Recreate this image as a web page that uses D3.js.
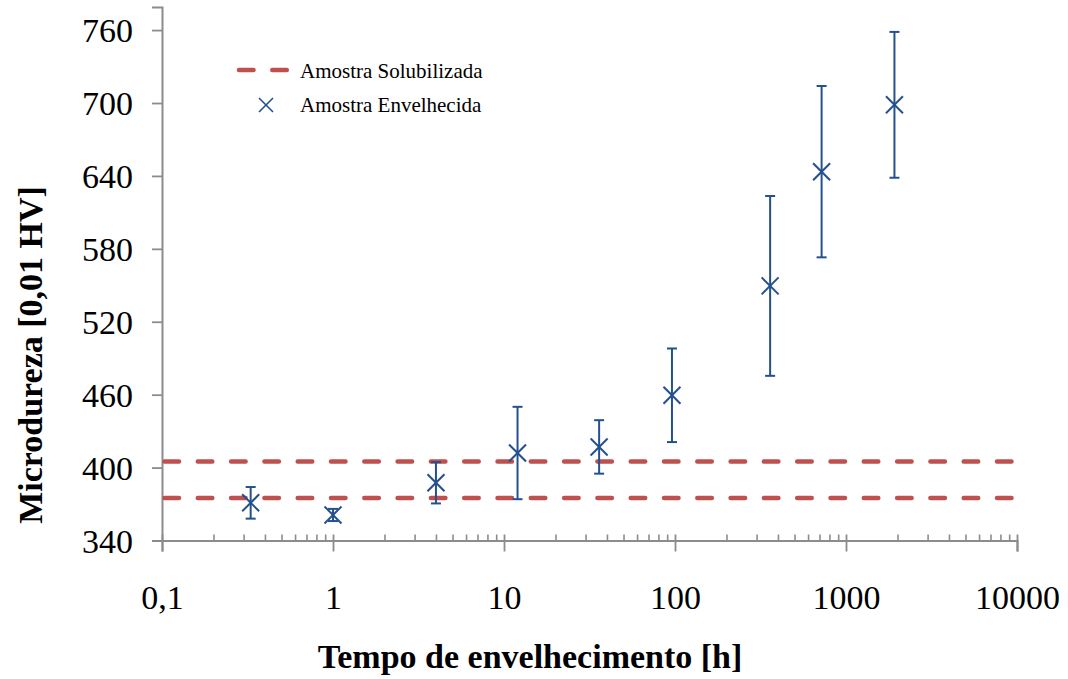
<!DOCTYPE html>
<html>
<head>
<meta charset="utf-8">
<script src="https://cdn.jsdelivr.net/npm/d3@7"></script>
<style>
  html, body { margin: 0; padding: 0; background: #ffffff; }
  svg { display: block; }
  text { font-family: "Liberation Serif", "Times New Roman", serif; fill: #000; }
</style>
</head>
<body>
<svg id="chart" width="1068" height="679"></svg>
<script>
// Tempo de envelhecimento (h) e microdureza medida (média e desvio)
const tempo = [0.33, 1, 4, 12, 36, 96, 360, 720, 1920];
const dureza = [371, 361, 387.5, 412, 417, 459.5, 549.5, 643.5, 698.5];
const desvio = [13, 5, 17, 38, 22, 38.5, 74, 70.5, 60];

// Faixa de dureza da amostra solubilizada
const solubilizada = [375, 405];

// Eixos
const yTicks = [340, 400, 460, 520, 580, 640, 700, 760];
const xTicks = [0.1, 1, 10, 100, 1000, 10000];
const xTickLabels = ["0,1", "1", "10", "100", "1000", "10000"];

const legendLabels = ["Amostra Solubilizada", "Amostra Envelhecida"];
const xTitle = "Tempo de envelhecimento [h]";
const yTitle = "Microdureza [0,01 HV]";

const serif = '"Liberation Serif", "Times New Roman", serif';
const svg = d3.select("#chart");
const axisColor = "#8c8c8c";
const blue = "#24508f";
const red = "#c0504d";

const x = d3.scaleLog().domain([0.1, 10000]).range([162, 1017]);
const y = d3.scaleLinear().domain([340, 779]).range([540.5, 7]);

// Minor ticks of the log axis (2..9 within each decade)
const minorTicks = [];
for (let e = -1; e < 4; e++) {
  for (let m = 2; m <= 9; m++) minorTicks.push(m * Math.pow(10, e));
}

// X axis: minor ticks pointing into the plot
const gMinor = svg.append("g").attr("transform", `translate(0,${y(340)})`)
  .call(d3.axisBottom(x).tickValues(minorTicks).tickSize(-6).tickFormat(""));
gMinor.select(".domain").remove();
gMinor.selectAll("line").attr("stroke", axisColor).attr("stroke-width", 1.6);

// X axis: major ticks crossing the axis line
const gx = svg.append("g").attr("transform", `translate(0,${y(340)})`)
  .call(d3.axisBottom(x).tickValues(xTicks).tickSizeOuter(0).tickSize(11).tickPadding(33)
    .tickFormat((d, i) => xTickLabels[i]));
gx.select(".domain").attr("stroke", axisColor).attr("stroke-width", 2);
gx.selectAll(".tick line").attr("y1", -6).attr("stroke", axisColor).attr("stroke-width", 1.8);
gx.selectAll(".tick text")
  .style("font-family", serif)
  .style("font-size", "34px").attr("fill", "#000");

// Y axis
const gy = svg.append("g").attr("transform", `translate(${x(0.1)},0)`)
  .call(d3.axisLeft(y).tickValues(yTicks).tickSizeOuter(0).tickSize(10).tickPadding(19)
    .tickFormat(d3.format("d")));
gy.select(".domain").attr("stroke", axisColor).attr("stroke-width", 2);
gy.selectAll(".tick line").attr("stroke", axisColor).attr("stroke-width", 1.8);
gy.selectAll(".tick text")
  .style("font-family", serif)
  .style("font-size", "34px").attr("fill", "#000").attr("dy", "0.35em");

// Solubilised-sample limits (dashed)
svg.append("g").selectAll("line").data(solubilizada).join("line")
  .attr("x1", x(0.1)).attr("x2", x(10000))
  .attr("y1", d => y(d)).attr("y2", d => y(d))
  .attr("stroke", red).attr("stroke-width", 4.5)
  .attr("stroke-linecap", "round")
  .attr("stroke-dasharray", "14.5 18.8")
  .attr("stroke-dashoffset", -2.5);

// Error bars
const pts = tempo.map((t, i) => ({ t, v: dureza[i], e: desvio[i] }));
const gErr = svg.append("g").attr("stroke", blue).attr("stroke-width", 2);
gErr.selectAll("line.bar").data(pts).join("line").attr("class", "bar")
  .attr("x1", d => x(d.t)).attr("x2", d => x(d.t))
  .attr("y1", d => y(d.v - d.e)).attr("y2", d => y(d.v + d.e));
gErr.selectAll("line.capTop").data(pts).join("line").attr("class", "capTop")
  .attr("x1", d => x(d.t) - 5).attr("x2", d => x(d.t) + 5)
  .attr("y1", d => y(d.v + d.e)).attr("y2", d => y(d.v + d.e));
gErr.selectAll("line.capBot").data(pts).join("line").attr("class", "capBot")
  .attr("x1", d => x(d.t) - 5).attr("x2", d => x(d.t) + 5)
  .attr("y1", d => y(d.v - d.e)).attr("y2", d => y(d.v - d.e));

// X-shaped markers
function xMark(sel, s) {
  sel.append("line").attr("x1", -s).attr("y1", -s).attr("x2", s).attr("y2", s);
  sel.append("line").attr("x1", -s).attr("y1", s).attr("x2", s).attr("y2", -s);
}
svg.append("g").selectAll("g").data(pts).join("g")
  .attr("transform", d => `translate(${x(d.t)},${y(d.v)})`)
  .attr("stroke", blue).attr("stroke-width", 2)
  .each(function () { xMark(d3.select(this), 8.5); });

// Legend
const lg = svg.append("g");
lg.append("line").attr("x1", 239).attr("x2", 287).attr("y1", 70).attr("y2", 70)
  .attr("stroke", red).attr("stroke-width", 4.5).attr("stroke-linecap", "round")
  .attr("stroke-dasharray", "14.5 18.8");
lg.append("g").attr("transform", "translate(266,105)")
  .attr("stroke", blue).attr("stroke-width", 1.6)
  .call(g => xMark(g, 7));
lg.selectAll("text").data(legendLabels).join("text")
  .attr("x", 300).attr("y", (d, i) => 71 + i * 34).attr("dy", "0.35em")
  .style("font-family", serif)
  .style("font-size", "21px").text(d => d);

// Axis titles
svg.append("text").attr("x", 530).attr("y", 668).attr("text-anchor", "middle")
  .style("font-family", serif)
  .style("font-size", "34px").style("font-weight", "bold").text(xTitle);
svg.append("text").attr("transform", "translate(42,355) rotate(-90)")
  .attr("text-anchor", "middle")
  .style("font-family", serif)
  .style("font-size", "34px").style("font-weight", "bold").text(yTitle);
</script>
</body>
</html>
